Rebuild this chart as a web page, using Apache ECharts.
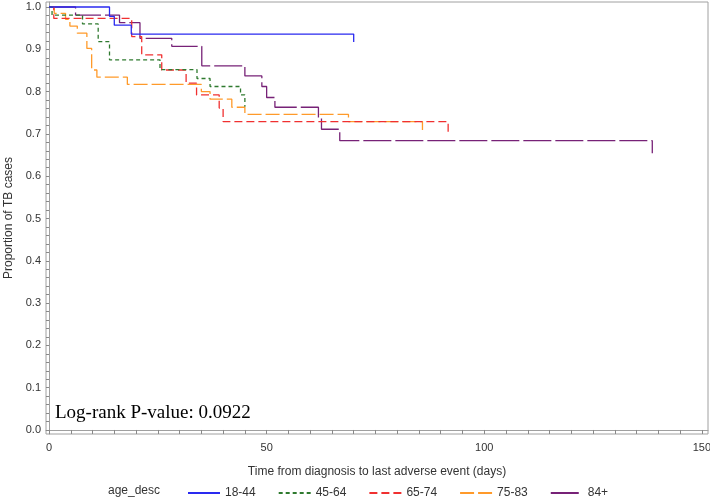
<!DOCTYPE html>
<html>
<head>
<meta charset="utf-8">
<script src="https://cdn.jsdelivr.net/npm/echarts@6/dist/echarts.min.js"></script>
<style>
  html, body { margin: 0; padding: 0; background: #fff; }
  #chart { width: 710px; height: 501px; }
</style>
</head>
<body>
<div id="chart"></div>
<script>
// Kaplan-Meier steps per age group: time (days) and proportion
const groups = ['18-44', '45-64', '65-74', '75-83', '84+'];

const t1844 = [0, 13.9, 15.0, 18.9, 70.0];
const s1844 = [1.0, 0.978, 0.957, 0.936, 0.917];

const t4564 = [0, 0.7, 7.7, 11.3, 13.9, 25.5, 34.0, 37.0, 44.0, 45.0];
const s4564 = [1.0, 0.981, 0.960, 0.918, 0.875, 0.852, 0.831, 0.812, 0.792, 0.764];

const t6574 = [0, 1.1, 19.0, 21.3, 25.9, 31.5, 33.9, 39.1, 40.0, 91.7];
const s6574 = [1.0, 0.973, 0.930, 0.887, 0.851, 0.820, 0.792, 0.761, 0.729, 0.702];

const t7583 = [0, 1.2, 3.8, 4.8, 6.5, 8.7, 9.8, 11.0, 18.0, 35.0, 37.0, 42.0, 45.0, 68.8, 85.8];
const s7583 = [1.0, 0.985, 0.971, 0.955, 0.938, 0.902, 0.851, 0.834, 0.817, 0.800, 0.782, 0.763, 0.746, 0.729, 0.709];

const t84 = [0, 6.1, 16.2, 20.9, 28.2, 35.1, 45.0, 48.9, 50.0, 51.9, 61.9, 62.6, 66.8, 138.6];
const s84 = [1.0, 0.981, 0.963, 0.926, 0.907, 0.861, 0.837, 0.812, 0.786, 0.763, 0.737, 0.711, 0.684, 0.654];

const xLabels = [0, 50, 100, 150];
const yLabels = [0, 0.1, 0.2, 0.3, 0.4, 0.5, 0.6, 0.7, 0.8, 0.9, 1.0];

const colors = ['#2a2af0', '#2f7a2f', '#f03030', '#ff9a2a', '#772277'];
const dashes = ['solid', [4, 3], [8, 4], [14, 4], [28, 4]];

function zip(t, s) {
  return t.map((v, i) => [v, s[i]]);
}
const curves = [zip(t1844, s1844), zip(t4564, s4564), zip(t6574, s6574), zip(t7583, s7583), zip(t84, s84)];

// tick positions
const xTicks = [];
for (let v = 0; v <= 150; v += 5) xTicks.push(v);
const yTicks = [];
for (let i = 0; i <= 50; i++) yTicks.push(+(i * 0.02).toFixed(2));

const font = 'Arial, "Liberation Sans", sans-serif';

const chart = echarts.init(document.getElementById('chart'));
chart.setOption({
  animation: false,
  color: colors,
  grid: {
    left: 46, top: 2, right: 2, bottom: 67,
    outerBoundsMode: 'none', containLabel: false,
    show: true, borderColor: '#a0a0a0', borderWidth: 1
  },
  xAxis: {
    type: 'value',
    min: -0.69, max: 151.4,
    splitLine: { show: false },
    axisLine: { lineStyle: { color: '#a0a0a0' } },
    axisTick: { customValues: xTicks, length: 4, lineStyle: { color: '#888' } },
    axisLabel: {
      customValues: xLabels, color: '#333', fontSize: 11, fontFamily: font, margin: 8
    },
    name: 'Time from diagnosis to last adverse event (days)',
    nameLocation: 'middle', nameGap: 32,
    nameTextStyle: { color: '#333', fontSize: 12, fontFamily: font }
  },
  yAxis: {
    type: 'value',
    min: -0.0095, max: 1.0118,
    splitLine: { show: false },
    axisLine: { show: true, lineStyle: { color: '#a0a0a0' } },
    axisTick: { show: true, customValues: yTicks, length: 3, lineStyle: { color: '#888' } },
    axisLabel: {
      customValues: yLabels, color: '#333', fontSize: 11, fontFamily: font, margin: 5,
      formatter: v => v.toFixed(1)
    },
    name: 'Proportion of TB cases',
    nameLocation: 'middle', nameGap: 30, nameRotate: 90,
    nameTextStyle: { color: '#333', fontSize: 12, fontFamily: font }
  },
  legend: {
    data: groups,
    left: 182, top: 482,
    itemWidth: 32, itemHeight: 10, itemGap: 22,
    itemStyle: { opacity: 0 },
    textStyle: { color: '#333', fontSize: 12, fontFamily: font }
  },
  graphic: [
    {
      type: 'text', left: 108, top: 485,
      style: { text: 'age_desc', fill: '#333', font: '12px ' + font }
    },
    {
      type: 'text', left: 55, top: 404,
      style: { text: 'Log-rank P-value: 0.0922', fill: '#000', font: '19px "Liberation Serif", "DejaVu Serif", serif' }
    }
  ],
  series: groups.map((g, i) => ({
    name: g,
    type: 'line',
    step: 'end',
    symbol: 'none',
    data: curves[i],
    lineStyle: { color: colors[i], width: 1.3, type: dashes[i] },
    itemStyle: { color: colors[i] },
    z: 10 - i
  }))
});
</script>
</body>
</html>
